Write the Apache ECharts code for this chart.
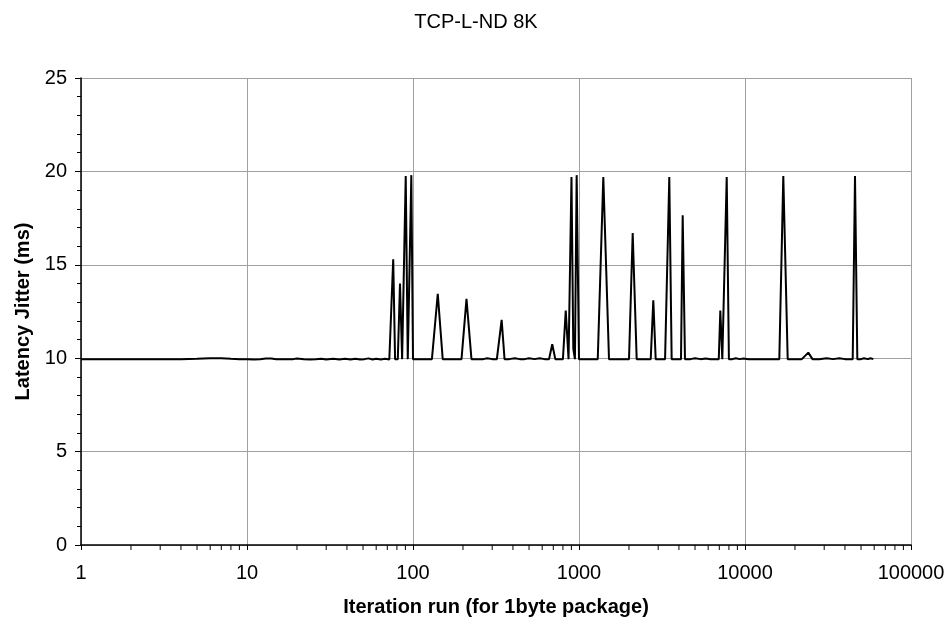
<!DOCTYPE html>
<html>
<head>
<meta charset="utf-8">
<script src="https://cdn.jsdelivr.net/npm/echarts@6/dist/echarts.min.js"></script>
<style>
  html, body { margin: 0; padding: 0; background: #fff; }
  #chart { width: 952px; height: 626px; }
</style>
</head>
<body>
<div id="chart"></div>
<script>
// 迭代次数 (x, log)
var iterRuns = [
  1, 2, 3, 4, 5, 6, 7, 8, 9, 10, 11, 12, 13, 14, 15, 17, 19, 20, 22, 24,
  26, 28, 30, 33, 36, 39, 42, 45, 48, 51, 54, 57, 60, 64, 68, 72, 74, 76, 78, 81,
  83.5, 86, 88, 90.4, 93, 95.5, 97.7, 100, 115, 130, 141, 151, 165, 180, 196, 210, 225, 245, 265, 280,
  300, 320, 342, 356, 380, 410, 440, 470, 500, 540, 580, 620, 660, 690, 720, 760, 800, 832, 865, 901,
  924, 945, 968, 1000, 1100, 1200, 1297, 1401, 1516, 1650, 1800, 2001, 2106, 2226, 2400, 2600, 2704, 2803, 2897, 3100,
  3300, 3375, 3499, 3616, 3800, 4000, 4116, 4213, 4350, 4700, 5000, 5400, 5800, 6200, 6600, 6950, 7100, 7300, 7500, 7760,
  8000, 8400, 8800, 9300, 9800, 10500, 11500, 12500, 13500, 14500, 16095, 17010, 18080, 20000, 22000, 24060, 25500, 28000, 31000, 34000,
  37000, 40000, 44550, 45990, 47490, 50000, 52000, 55000, 57000, 59300
]
// 延迟抖动 (ms)
var jitter = [
  9.95, 9.95, 9.95, 9.95, 9.97, 10.0, 10.0, 9.97, 9.95, 9.95, 9.93, 9.95, 9.98, 9.98, 9.95, 9.95, 9.95, 9.98, 9.95, 9.93,
  9.95, 9.97, 9.93, 9.97, 9.93, 9.97, 9.93, 9.97, 9.93, 9.95, 9.99, 9.93, 9.97, 9.93, 9.97, 9.93, 9.95, 15.3, 9.95, 9.95,
  14.0, 9.95, 9.95, 19.75, 9.95, 9.95, 19.8, 9.95, 9.95, 9.95, 13.45, 9.95, 9.95, 9.95, 9.95, 13.18, 9.95, 9.95, 9.95, 10.0,
  9.95, 9.95, 12.05, 9.95, 9.95, 10.0, 9.95, 9.95, 10.0, 9.95, 10.0, 9.95, 9.95, 10.75, 9.95, 9.95, 9.95, 12.55, 9.95, 19.7,
  10.5, 9.95, 19.8, 9.95, 9.95, 9.95, 9.95, 19.7, 9.95, 9.95, 9.95, 9.95, 16.7, 9.95, 9.95, 9.95, 9.95, 13.1, 9.95, 9.95,
  9.95, 9.95, 19.7, 9.95, 9.95, 9.95, 9.95, 17.65, 9.95, 9.95, 10.0, 9.95, 9.98, 9.95, 9.95, 9.95, 12.55, 9.95, 9.95, 19.7,
  9.95, 9.95, 10.0, 9.95, 9.98, 9.95, 9.95, 9.95, 9.95, 9.95, 9.95, 19.75, 9.95, 9.95, 9.95, 10.3, 9.95, 9.95, 10.0, 9.95,
  10.0, 9.95, 9.95, 19.75, 9.95, 9.95, 10.0, 9.95, 10.0, 9.95
]
// x 轴次刻度 2..9 每个十进制
var minorTicks = []
;[1, 10, 100, 1000, 10000].forEach(function (d) {
  for (var k = 2; k <= 9; k++) minorTicks.push([k * d, 0])
})

var lineData = iterRuns.map(function (x, i) { return [x, jitter[i]] })

var myChart = echarts.init(document.getElementById('chart'))
myChart.setOption({
  animation: false,
  title: {
    text: 'TCP-L-ND 8K',
    left: 'center',
    top: 7,
    textStyle: { fontFamily: 'Liberation Sans', fontSize: 20, fontWeight: 'normal', color: '#000' }
  },
  grid: { left: 81, right: 41, top: 78, bottom: 81 },
  xAxis: {
    type: 'log',
    logBase: 10,
    min: 1,
    max: 100000,
    name: 'Iteration run (for 1byte package)',
    nameLocation: 'middle',
    nameGap: 52,
    nameTextStyle: { fontFamily: 'Liberation Sans', fontSize: 20, fontWeight: 'bold', color: '#000' },
    axisLine: { lineStyle: { color: '#000', width: 1.5 } },
    axisTick: { show: true, length: 5, lineStyle: { color: '#000' } },
    axisLabel: {
      margin: 18,
      fontFamily: 'Liberation Sans', fontSize: 20, color: '#000',
      formatter: function (v) { return String(Math.round(v)) }
    },
    splitLine: { show: true, lineStyle: { color: '#a0a0a0', width: 1 } }
  },
  yAxis: {
    type: 'value',
    min: 0,
    max: 25,
    interval: 5,
    name: 'Latency Jitter (ms)',
    nameLocation: 'middle',
    nameGap: 48,
    nameTextStyle: { fontFamily: 'Liberation Sans', fontSize: 20, fontWeight: 'bold', color: '#000' },
    axisLine: { show: true, lineStyle: { color: '#000', width: 1.5 } },
    axisTick: { show: true, length: 6, lineStyle: { color: '#000' } },
    minorTick: { show: true, splitNumber: 5, length: 4, lineStyle: { color: '#000' } },
    axisLabel: { margin: 14, fontFamily: 'Liberation Sans', fontSize: 20, color: '#000' },
    splitLine: { show: true, lineStyle: { color: '#a0a0a0', width: 1 } }
  },
  series: [
    {
      type: 'line',
      data: lineData,
      showSymbol: false,
      lineStyle: { color: '#000', width: 2 },
      z: 3
    },
    {
      type: 'custom',
      data: minorTicks,
      clip: false,
      silent: true,
      renderItem: function (params, api) {
        var p = api.coord([api.value(0), api.value(1)])
        return {
          type: 'line',
          shape: { x1: p[0], y1: p[1], x2: p[0], y2: p[1] + 5 },
          style: { stroke: '#000', lineWidth: 1 }
        }
      }
    }
  ]
})
</script>
</body>
</html>
